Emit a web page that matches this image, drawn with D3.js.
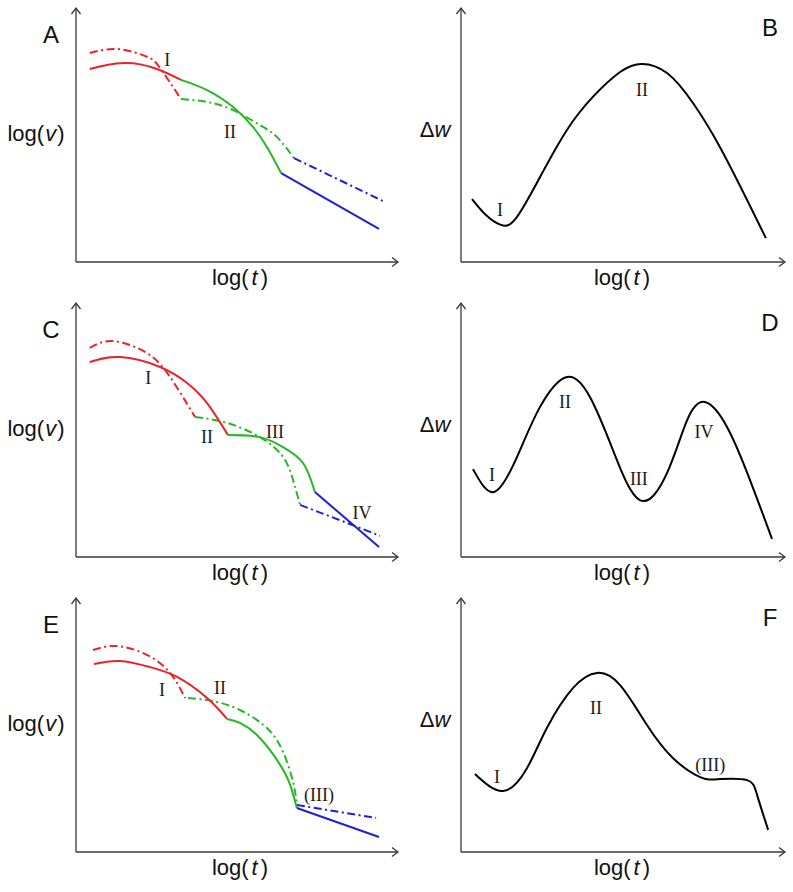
<!DOCTYPE html>
<html><head><meta charset="utf-8">
<script src="https://cdn.jsdelivr.net/npm/d3@7/dist/d3.min.js"></script>
<style>body{margin:0;background:#fff}svg{display:block}</style>
</head><body>
<script>
// ---------- DATA (normalized units: x 0..100 along axis, y 0..100 up axis) ----------
// Panel A
const A_redSolid   = [[4.3,76],[10,77.7],[15,78.3],[20,77.8],[26,75.6],[32.6,71.7]];
const A_greenSolid = [[32.6,71.7],[40.7,67.7],[48.8,61.0],[55.0,53.1],[59.3,45.3],[63.7,35.0]];
const A_blueSolid  = [[63.7,35.0],[94.1,13.0]];
const A_redDash    = [[4.3,82.3],[11.5,83.9],[18,82.6],[23.0,80.3],[26.1,76.4],[32.6,64.2]];
const A_greenDash  = [[32.6,64.2],[40.7,63.0],[48.8,59.8],[57.1,53.9],[62.4,49.2],[67.7,40.9]];
const A_blueDash   = [[67.7,40.9],[96.0,23.6]];
const A_labels     = [["I",28.3,79.5],["II",47.8,51.2]];
// Panel C
const C_redSolid   = [[4.3,76.8],[13.7,78.7],[26.1,74.8],[34.5,68.5],[40.7,60.6],[47.2,48.0]];
const C_greenSolid = [[47.2,48.0],[57.1,47.2],[64.3,43.3],[70.5,37.0],[74.2,25.6]];
const C_blueSolid  = [[74.2,25.6],[94.1,3.9]];
const C_redDash    = [[4.3,82.3],[11.5,85.0],[22.0,80.3],[29.2,70.9],[37.0,55.1]];
const C_greenDash  = [[37.0,55.1],[46.9,52.8],[57.1,47.2],[64.3,39.4],[67.4,30.3],[69.6,20.5]];
const C_blueDash   = [[69.6,20.5],[84.2,13.4],[94.4,8.3]];
const C_labels     = [["I",22.4,70.5],["II",40.7,47.2],["III",61.8,49.2],["IV",88.8,17.3]];
// Panel E
const E_redSolid   = [[5.6,74.0],[13.7,75.2],[23.0,72.8],[31.4,68.9],[40.7,60.6],[46.9,52.4]];
const E_greenSolid = [[46.9,52.4],[50.9,50.8],[57.1,44.9],[63.4,34.3],[66.5,26.4],[68.6,17.3]];
const E_blueSolid  = [[68.6,17.3],[94.1,5.9]];
const E_redDash    = [[5.3,79.5],[12.7,81.1],[22.0,77.6],[29.2,70.5],[33.9,60.6]];
const E_greenDash  = [[34.8,60.6],[42.5,59.4],[50.9,55.9],[59.3,48.8],[64.3,39.4],[67.4,27.6],[68.6,18.5]];
const E_blueDash   = [[68.6,18.5],[93.2,13.4]];
const E_labels     = [["I",26.7,63.8],["II",44.7,64.6],["(III)",75.5,22.4]];
// Panel B
const B_curve  = [[3.4,24.8],[7.7,18.5],[12.3,14.6],[17.0,17.3],[24.4,33.5],[32.7,52.0],[40.7,65.0],[49.1,74.8],[55.9,78.0],[63.6,74.4],[71.6,62.6],[79.9,45.3],[88.3,24.4],[94.1,9.4]];
const B_labels = [["I",12.0,20.5],["II",55.9,67.7]];
// Panel D
const D_curve  = [[3.7,34.6],[10.2,25.6],[17.3,39.4],[24.4,59.1],[32.7,70.9],[39.8,63.0],[46.9,42.1],[55.2,22.4],[63.6,33.1],[69.8,53.9],[75.3,61.0],[82.1,51.2],[89.2,30.3],[96.0,7.1]];
const D_labels = [["I",9.6,32.3],["II",32.1,61.0],["III",54.9,30.7],["IV",75.0,49.2]];
// Panel F
const F_curve  = [[4.3,30.7],[13.0,24.0],[20.4,33.1],[26.5,48.8],[34.6,64.6],[42.0,70.5],[49.1,65.7],[57.4,50.0],[65.4,37.0],[73.8,29.5],[79.9,28.7],[88.3,28.3],[91.4,22.4],[94.8,8.7]];
const F_labels = [["I",11.1,29.5],["II",41.7,56.7],["(III)",76.9,34.3]];

const panelLetters = ["A","B","C","D","E","F"];

// ---------- LAYOUT ----------
const W = 793, H = 892;
const colors = {red:"#e8232a", green:"#25b825", blue:"#1f1fd6"};
const svg = d3.select("body").append("svg").attr("width",W).attr("height",H);

const leftPanels = [
  {letter:panelLetters[0], top:8,   bot:262, red:A_redSolid, green:A_greenSolid, blue:A_blueSolid, redD:A_redDash, greenD:A_greenDash, blueD:A_blueDash, labels:A_labels},
  {letter:panelLetters[2], top:303, bot:557, red:C_redSolid, green:C_greenSolid, blue:C_blueSolid, redD:C_redDash, greenD:C_greenDash, blueD:C_blueDash, labels:C_labels},
  {letter:panelLetters[4], top:598, bot:852, red:E_redSolid, green:E_greenSolid, blue:E_blueSolid, redD:E_redDash, greenD:E_greenDash, blueD:E_blueDash, labels:E_labels}
];
const rightPanels = [
  {letter:panelLetters[1], top:8,   bot:262, curve:B_curve, labels:B_labels},
  {letter:panelLetters[3], top:303, bot:557, curve:D_curve, labels:D_labels},
  {letter:panelLetters[5], top:598, bot:852, curve:F_curve, labels:F_labels}
];

function drawAxes(g, x, y){
  const axisColor = "#3a3a3a";
  const ln = d3.line().x(d=>x(d[0])).y(d=>y(d[1]));
  g.append("path").attr("d", ln([[0,0],[0,100]])).attr("stroke",axisColor).attr("stroke-width",1.3).attr("fill","none");
  g.append("path").attr("d", ln([[0,0],[100,0]])).attr("stroke",axisColor).attr("stroke-width",1.3).attr("fill","none");
  const x0 = x(0), yt = y(100), xe = x(100), y0 = y(0);
  g.append("path").attr("d",`M${x0-4.5},${yt+6}L${x0},${yt}L${x0+4.5},${yt+6}`).attr("stroke",axisColor).attr("stroke-width",1.3).attr("fill","none");
  g.append("path").attr("d",`M${xe-6},${y0-4.5}L${xe},${y0}L${xe-6},${y0+4.5}`).attr("stroke",axisColor).attr("stroke-width",1.3).attr("fill","none");
}
function axisLabelX(g, cx, by){
  const t = g.append("text").attr("x",cx).attr("y",by).attr("text-anchor","middle")
    .attr("font-family","Liberation Sans, Arial, sans-serif").attr("font-size",22).attr("fill","#111");
  t.append("tspan").text("log(");
  t.append("tspan").attr("font-style","italic").attr("dx",3).text("t");
  t.append("tspan").attr("dx",3).text(")");
}
function romanLabels(g, x, y, labels){
  g.selectAll("text.rl").data(labels).join("text").attr("class","rl")
    .attr("x",d=>x(d[1])).attr("y",d=>y(d[2])).attr("dy","0.35em")
    .attr("text-anchor","middle").attr("font-family","Liberation Serif, Times New Roman, serif")
    .attr("font-size",18).attr("fill","#1a1a1a").text(d=>d[0]);
}
function letter(g, txt, cx, by){
  g.append("text").attr("x",cx).attr("y",by).attr("text-anchor","middle")
    .attr("font-family","Liberation Sans, Arial, sans-serif").attr("font-size",24).attr("fill","#111").text(txt);
}

leftPanels.forEach(p=>{
  const g = svg.append("g");
  const x = d3.scaleLinear().domain([0,100]).range([76,398]);
  const y = d3.scaleLinear().domain([0,100]).range([p.bot,p.top]);
  drawAxes(g,x,y);
  const line = d3.line().x(d=>x(d[0])).y(d=>y(d[1])).curve(d3.curveNatural);
  const series = [
    [p.redD,colors.red,true],[p.greenD,colors.green,true],[p.blueD,colors.blue,true],
    [p.red,colors.red,false],[p.green,colors.green,false],[p.blue,colors.blue,false]
  ];
  series.forEach(([data,c,dash])=>{
    g.append("path").attr("d",line(data)).attr("fill","none").attr("stroke",c)
      .attr("stroke-width",2).attr("stroke-dasharray",dash?"8,3.5,2,3.5":null);
  });
  romanLabels(g,x,y,p.labels);
  letter(g,p.letter,51,p.top+35);
  const t = g.append("text").attr("x",36).attr("y",p.top+133).attr("text-anchor","middle")
    .attr("font-family","Liberation Sans, Arial, sans-serif").attr("font-size",22).attr("fill","#111");
  t.append("tspan").text("log(");
  t.append("tspan").attr("font-style","italic").attr("dx",1).text("v");
  t.append("tspan").attr("dx",1).text(")");
  axisLabelX(g,240,p.top+277);
});

rightPanels.forEach(p=>{
  const g = svg.append("g");
  const x = d3.scaleLinear().domain([0,100]).range([461,785]);
  const y = d3.scaleLinear().domain([0,100]).range([p.bot,p.top]);
  drawAxes(g,x,y);
  const line = d3.line().x(d=>x(d[0])).y(d=>y(d[1])).curve(d3.curveNatural);
  g.append("path").attr("d",line(p.curve)).attr("fill","none").attr("stroke","#000").attr("stroke-width",2);
  romanLabels(g,x,y,p.labels);
  letter(g,p.letter,770,p.top+28);
  const t = g.append("text").attr("x",435).attr("y",p.top+129).attr("text-anchor","middle")
    .attr("font-family","Liberation Sans, Arial, sans-serif").attr("font-size",22).attr("fill","#111");
  t.append("tspan").text("Δ");
  t.append("tspan").attr("font-style","italic").text("w");
  axisLabelX(g,622,p.top+277);
});
</script>
</body></html>
